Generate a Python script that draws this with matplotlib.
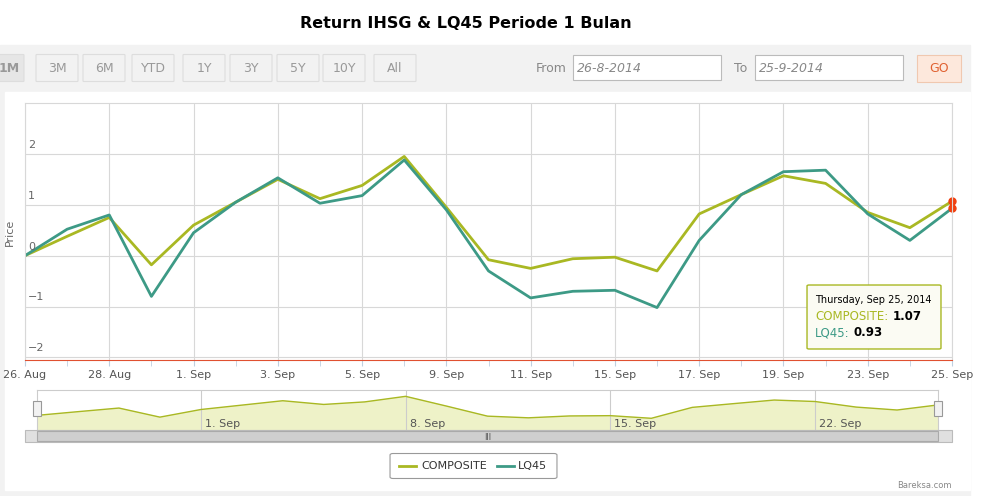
import matplotlib
matplotlib.use("Agg")
import matplotlib.pyplot as plt
from matplotlib.patches import FancyBboxPatch, Rectangle

dates = ["26 Aug","27 Aug","28 Aug","29 Aug","1 Sep","2 Sep","3 Sep","4 Sep","5 Sep","8 Sep","9 Sep",
         "10 Sep","11 Sep","12 Sep","15 Sep","16 Sep","17 Sep","18 Sep","19 Sep","22 Sep","23 Sep","24 Sep","25 Sep"]
composite = [0, 0.38, 0.75, -0.18, 0.6, 1.05, 1.5, 1.12, 1.38, 1.95, 0.95, -0.08, -0.25, -0.06, -0.03, -0.3,
             0.82, 1.2, 1.57, 1.42, 0.85, 0.55, 1.07]
lq45 = [0, 0.52, 0.8, -0.8, 0.45, 1.05, 1.53, 1.03, 1.18, 1.88, 0.9, -0.3, -0.83, -0.7, -0.68, -1.02,
        0.3, 1.2, 1.65, 1.68, 0.82, 0.3, 0.93]
tick_labels = ["26. Aug","28. Aug","1. Sep","3. Sep","5. Sep","9. Sep","11. Sep","15. Sep","17. Sep","19. Sep","23. Sep","25. Sep"]
tick_idx = [0,2,4,6,8,10,12,14,16,18,20,22]
buttons = ["1M","3M","6M","YTD","1Y","3Y","5Y","10Y","All"]

C1 = "#a9b823"
C2 = "#3d9a86"
W, H = 991, 496
fig = plt.figure(figsize=(9.91, 4.96), dpi=100)
fig.patch.set_facecolor("white")

def fx(px): return px / W
def fy(py): return 1 - py / H

fig.patches.append(Rectangle((0, 0), fx(970), fy(45), transform=fig.transFigure, color="#f2f2f2", zorder=-10))
fig.patches.append(Rectangle((fx(5), fy(490)), fx(965), fy(92) - fy(490), transform=fig.transFigure, color="white", zorder=-9))
fig.text(0.47, fy(24), "Return IHSG & LQ45 Periode 1 Bulan", ha="center", va="center", fontsize=11.5, fontweight="bold")

bx = [-5, 37, 84, 133, 184, 231, 278, 324, 375]
for b, x in zip(buttons, bx):
    w = 40 if b != "1M" else 28
    fc = "#e6e6e6" if b == "1M" else "#f2f2f2"
    fig.patches.append(FancyBboxPatch((fx(x), fy(81)), fx(w), fy(55) - fy(81), boxstyle="round,pad=0.001",
                                      transform=fig.transFigure, fc=fc, ec="#dddddd", lw=0.8))
    fig.text(fx(x + w / 2), fy(68), b, ha="center", va="center", fontsize=9, color="#999999",
             fontweight="bold" if b == "1M" else "normal")
fig.text(fx(536), fy(68), "From", fontsize=9, color="#888888", va="center")
fig.patches.append(Rectangle((fx(573), fy(80)), fx(148), fy(55) - fy(80), transform=fig.transFigure, fc="white", ec="#bbbbbb", lw=0.8))
fig.text(fx(577), fy(68), "26-8-2014", fontsize=9, color="#888888", va="center", style="italic")
fig.text(fx(734), fy(68), "To", fontsize=9, color="#888888", va="center")
fig.patches.append(Rectangle((fx(755), fy(80)), fx(148), fy(55) - fy(80), transform=fig.transFigure, fc="white", ec="#bbbbbb", lw=0.8))
fig.text(fx(759), fy(68), "25-9-2014", fontsize=9, color="#888888", va="center", style="italic")
fig.patches.append(Rectangle((fx(917), fy(82)), fx(44), fy(55) - fy(82), transform=fig.transFigure, fc="#fde8dc", ec="#f0c8b0", lw=0.8))
fig.text(fx(939), fy(69), "GO", fontsize=9, color="#e06030", ha="center", va="center")

ax = fig.add_axes([fx(25), fy(360), fx(952) - fx(25), fy(103) - fy(360)])
x = list(range(len(dates)))
ax.plot(x, composite, color=C1, lw=2)
ax.plot(x, lq45, color=C2, lw=2)
ax.plot([22, 22], [composite[-1], lq45[-1]], "o", color="#f04010", ms=5, clip_on=False)
ax.set_xlim(0, 22)
ax.set_ylim(-2.05, 3)
ax.set_yticks([-2, -1, 0, 1, 2])
ax.set_yticklabels([])
for v in [-2, -1, 0, 1, 2]:
    ax.text(0.003, v + 0.08, str(v).replace("-", "−"), transform=ax.get_yaxis_transform(), fontsize=8, color="#666666", ha="left", va="bottom")
ax.set_xticks(x, minor=True)
ax.set_xticks(tick_idx)
ax.set_xticklabels(tick_labels, fontsize=8, color="#555555")
ax.tick_params(axis="y", length=0)
ax.tick_params(axis="x", which="both", length=4, color="#c0d0e0")
ax.grid(True, axis="both", which="major", color="#d8d8d8", lw=0.8)
for s in ["top", "right", "left"]:
    ax.spines[s].set_color("#d8d8d8")
ax.spines["bottom"].set_color("#e05030")
fig.text(fx(10), fy(232), "Price", fontsize=8, color="#666666", rotation=90, ha="center", va="center")

fig.patches.append(FancyBboxPatch((fx(809), fy(348)), fx(130), fy(286) - fy(348), boxstyle="round,pad=0.002",
                                  transform=fig.transFigure, fc="#fbfbf3", ec=C1, lw=1))
fig.text(fx(815), fy(300), "Thursday, Sep 25, 2014", fontsize=7, va="center")
fig.text(fx(815), fy(316), "COMPOSITE:", fontsize=8.5, color=C1, va="center")
fig.text(fx(893), fy(316), "1.07", fontsize=8.5, fontweight="bold", va="center")
fig.text(fx(815), fy(333), "LQ45:", fontsize=8.5, color=C2, va="center")
fig.text(fx(853), fy(333), "0.93", fontsize=8.5, fontweight="bold", va="center")

nav = fig.add_axes([fx(37), fy(430), fx(938) - fx(37), fy(390) - fy(430)])
nav.fill_between(x, composite, -1.5, color="#eef2c8")
nav.plot(x, composite, color=C1, lw=1)
nav.set_xlim(0, 22); nav.set_ylim(-1.5, 2.6)
nav.set_yticks([])
nav.set_xticks([4, 9, 14, 19])
nav.set_xticklabels([])
nav.tick_params(axis="x", length=0)
nav.grid(True, axis="x", color="#cccccc", lw=0.8)
for xi, lab in zip([4, 9, 14, 19], ["1. Sep", "8. Sep", "15. Sep", "22. Sep"]):
    nav.text(xi + 0.1, -1.2, lab, fontsize=8, color="#555555")
for s in nav.spines.values():
    s.set_color("#cccccc")
for px in [37, 938]:
    fig.patches.append(Rectangle((fx(px - 4), fy(416)), fx(8), fy(401) - fy(416), transform=fig.transFigure, fc="#f2f2f2", ec="#999999", lw=0.8))
fig.patches.append(Rectangle((fx(25), fy(442)), fx(927), fy(430) - fy(442), transform=fig.transFigure, fc="#e0e0e0", ec="#bbbbbb", lw=0.8))
fig.patches.append(Rectangle((fx(37), fy(441)), fx(901), fy(431) - fy(441), transform=fig.transFigure, fc="#cfcfcf", ec="#aaaaaa", lw=0.8))
fig.text(fx(488), fy(436), "|||", fontsize=5, color="#333333", ha="center", va="center")

fig.patches.append(FancyBboxPatch((fx(393), fy(477)), fx(161), fy(455) - fy(477), boxstyle="round,pad=0.003",
                                  transform=fig.transFigure, fc="white", ec="#999999", lw=0.8))
fig.lines.append(plt.Line2D([fx(399), fx(416)], [fy(466)] * 2, transform=fig.transFigure, color=C1, lw=2))
fig.text(fx(421), fy(466), "COMPOSITE", fontsize=8, va="center", color="#333333")
fig.lines.append(plt.Line2D([fx(497), fx(514)], [fy(466)] * 2, transform=fig.transFigure, color=C2, lw=2))
fig.text(fx(518), fy(466), "LQ45", fontsize=8, va="center", color="#333333")
fig.text(fx(952), fy(486), "Bareksa.com", fontsize=6, color="#888888", ha="right", va="center")

fig.savefig("out.png", dpi=100)
